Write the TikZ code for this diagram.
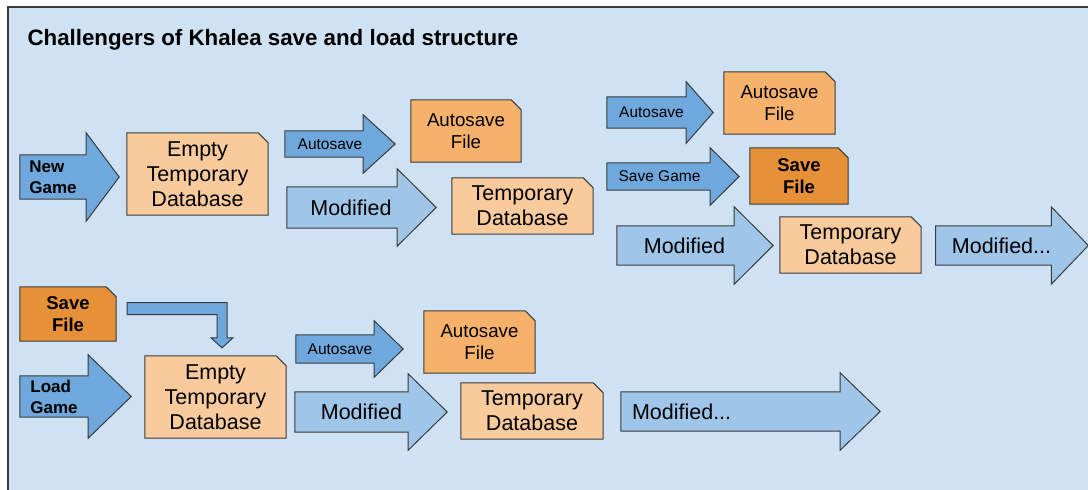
\documentclass[tikz,border=0pt]{standalone}
\usepackage{fontspec}
\setmainfont{Liberation Sans}
\usepackage{xcolor}
\usepackage{tikz}
\usetikzlibrary{backgrounds, positioning}

\definecolor{paneblue}{HTML}{CFE2F3}
\definecolor{dkarrow}{HTML}{6FA8DC}
\definecolor{ltarrow}{HTML}{9FC5E8}
\definecolor{dbfill}{HTML}{F9CB9C}
\definecolor{autofill}{HTML}{F6B26B}
\definecolor{savefill}{HTML}{E69138}
\definecolor{edgegray}{HTML}{3A3A3A}

\newcommand{\titletxt}{\fontsize{22.3}{26}\selectfont\bfseries}
\newcommand{\bigtxt}{\fontsize{21.5}{25}\selectfont}
\newcommand{\midtxt}{\fontsize{18.7}{22}\selectfont}
\newcommand{\smalltxt}{\fontsize{15.5}{18}\selectfont}
\newcommand{\keytxt}{\fontsize{17}{21}\selectfont\bfseries}
\newcommand{\savetxt}{\fontsize{18.5}{22}\selectfont\bfseries}

\begin{document}
\begin{tikzpicture}[
  x=1pt, y=-1pt,
  outl/.style={draw=edgegray, line width=1pt, line join=miter},
  box/.style={inner sep=0pt, align=center, text=black},
  db/.style={box, font=\bigtxt},
  af/.style={box, font=\midtxt},
  sf/.style={box, font=\savetxt},
  darr/.style={box},
  larr/.style={box, font=\bigtxt},
  % pushes a one-line label towards the arrow head
  nudge/.style={execute at begin node={\hspace*{#1}}}
]
  \useasboundingbox (0,0) rectangle (1088,490);

  \node[anchor=base west, font=\titletxt] (title) at (24,45) {Challengers of Khalea save and load structure};

  % new game row
  \node[darr, font=\keytxt, align=left, minimum width=66pt, minimum height=44pt] (newgame) at (53,177) {New\\Game};
  \node[db, minimum width=141pt, minimum height=82pt] (empty1) at (197.5,174) {Empty\\Temporary\\Database};
  \node[darr, font=\smalltxt, nudge=12pt, minimum width=78pt, minimum height=26pt] (auto1) at (324,144) {Autosave};
  \node[af, minimum width=110pt, minimum height=62pt] (afile1) at (466,131) {Autosave\\File};
  \node[larr, nudge=18pt, minimum width=110pt, minimum height=41pt] (mod1) at (342,207.5) {Modified};
  \node[db, minimum width=141pt, minimum height=56pt] (tmp1) at (522.5,206) {Temporary\\Database};

  \node[darr, font=\smalltxt, nudge=10pt, minimum width=79pt, minimum height=31pt] (auto2) at (646.5,112.5) {Autosave};
  \node[af, minimum width=111pt, minimum height=62pt] (afile2) at (779.5,103) {Autosave\\File};
  \node[darr, font=\smalltxt, nudge=2pt, minimum width=103pt, minimum height=27pt] (savegame) at (658.5,176.5) {Save Game};
  \node[sf, minimum width=98pt, minimum height=56pt] (sfile1) at (799,176) {Save\\File};
  \node[larr, nudge=18pt, minimum width=117pt, minimum height=39pt] (mod2) at (675.5,245.5) {Modified};
  \node[db, minimum width=141pt, minimum height=56pt] (tmp2) at (850.5,245) {Temporary\\Database};
  \node[larr, nudge=16pt, minimum width=113pt, minimum height=39pt] (more1) at (993.5,245.5) {Modified...};

  % load game row
  \node[sf, minimum width=96pt, minimum height=54pt] (sfile2) at (68,314) {Save\\File};
  \node[darr, font=\keytxt, align=left, minimum width=68pt, minimum height=41pt] (loadgame) at (54,396.5) {Load\\Game};
  \node[db, minimum width=141pt, minimum height=82pt] (empty2) at (215.5,397) {Empty\\Temporary\\Database};
  \node[darr, font=\smalltxt, nudge=10pt, minimum width=78pt, minimum height=28pt] (auto3) at (335,349) {Autosave};
  \node[af, minimum width=111pt, minimum height=62pt] (afile3) at (479.5,342) {Autosave\\File};
  \node[larr, nudge=20pt, minimum width=113pt, minimum height=40pt] (mod3) at (351.5,412) {Modified};
  \node[db, minimum width=142pt, minimum height=56pt] (tmp3) at (532,411) {Temporary\\Database};
  \node[larr, text width=197pt, align=left, minimum width=219pt, minimum height=39pt] (more2) at (730.5,411.5) {Modified...};

  \coordinate (bendstart) at ([xshift=11pt, yshift=5.5pt]sfile2.east);
  \coordinate (bendtip) at ([xshift=6.5pt, yshift=8pt]empty2.north);
  \draw[outl, fill=dkarrow] ([yshift=6pt]bendstart) -| ([xshift=5pt, yshift=10pt]bendtip)
    -- ++(6,0) -- (bendtip) -- ++(-11,-10) -- ++(6,0) |- ([yshift=-6pt]bendstart) -- cycle;

  \begin{scope}[on background layer]
    \fill[white] (0,0) rectangle (1088,490);
    \draw[draw=edgegray, line width=1.5pt, fill=paneblue] (8,7) rectangle (1100,500);
    % documents with a clipped corner
    \foreach \n/\c in {empty1/dbfill, tmp1/dbfill, tmp2/dbfill, empty2/dbfill, tmp3/dbfill,
                       afile1/autofill, afile2/autofill, afile3/autofill, sfile1/savefill, sfile2/savefill}
      \draw[outl, fill=\c] (\n.south west) -- (\n.north west) -- ([xshift=-10pt]\n.north east)
        -- ([yshift=-10pt]\n.north east) -- (\n.south east) -- cycle;
    % block arrows: name/fill/head length/head overhang
    \foreach \n/\c/\h/\o in {newgame/dkarrow/33/22, auto1/dkarrow/32/16, auto2/dkarrow/27/15,
                             savegame/dkarrow/29/15, loadgame/dkarrow/43/21, auto3/dkarrow/29/14,
                             mod1/ltarrow/39/18, mod2/ltarrow/39/19, more1/ltarrow/37/19,
                             mod3/ltarrow/39/18, more2/ltarrow/40/19}
      \draw[outl, fill=\c] (\n.south west) -- (\n.north west) -- (\n.north east)
        -- ([yshift=\o pt]\n.north east) -- ([xshift=\h pt]\n.east)
        -- ([yshift=-\o pt]\n.south east) -- (\n.south east) -- cycle;
  \end{scope}
\end{tikzpicture}
\end{document}
